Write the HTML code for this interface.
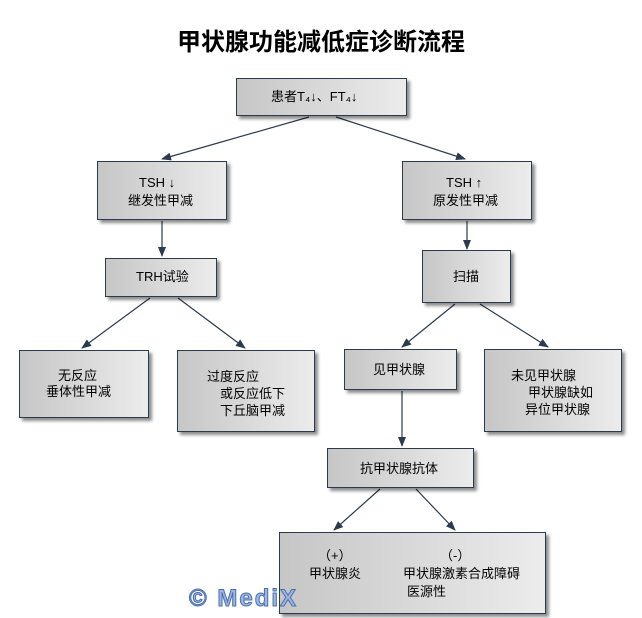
<!DOCTYPE html>
<html><head><meta charset="utf-8"><style>
body{margin:0;width:642px;height:618px;background:#fff;position:relative;overflow:hidden;font-family:"Liberation Sans","Noto Sans CJK SC",sans-serif;}
.b{position:absolute;box-sizing:border-box;border:1px solid #2c3a4e;background:linear-gradient(to right,#c6c6c6,#ececec);box-shadow:3px 3px 3px rgba(0,0,0,0.45);font-size:13px;color:#000;line-height:18px;}
.t{position:absolute;white-space:pre;font-size:13px;line-height:18px}
</style></head><body>
<div style="position:absolute;left:0;width:642px;top:22px;text-align:center;font-size:24px;font-weight:bold;font-family:'Noto Sans CJK SC',sans-serif;">甲状腺功能减低症诊断流程</div>
<svg width="642" height="618" style="position:absolute;left:0;top:0">
<defs><marker id="a" markerWidth="10" markerHeight="8" refX="9" refY="4" orient="auto" markerUnits="userSpaceOnUse"><path d="M0,0 L10,4 L0,8 z" fill="#2c3a4e"/></marker></defs>
<g stroke="#2c3a4e" stroke-width="1.2" marker-end="url(#a)">
<line x1="309" y1="117" x2="162" y2="159"/>
<line x1="336" y1="117" x2="465" y2="159"/>
<line x1="162" y1="221" x2="162" y2="256"/>
<line x1="467" y1="221" x2="467" y2="249"/>
<line x1="150" y1="298" x2="82" y2="348"/>
<line x1="178" y1="298" x2="245" y2="348"/>
<line x1="455" y1="304" x2="402" y2="347"/>
<line x1="480" y1="304" x2="548" y2="347"/>
<line x1="402" y1="391" x2="402" y2="446"/>
<line x1="380" y1="489" x2="334" y2="530"/>
<line x1="416" y1="489" x2="455" y2="530"/>
</g></svg>
<div class="b" style="left:236px;top:78px;width:171px;height:38px"><span class="t" style="left:34px;top:9px">患者T₄↓、FT₄↓</span></div>
<div class="b" style="left:97px;top:161px;width:130px;height:59px"><span class="t" style="left:41px;top:12px">TSH ↓
</span><span class="t" style="left:30px;top:30px">继发性甲减</span></div>
<div class="b" style="left:402px;top:161px;width:130px;height:59px"><span class="t" style="left:43px;top:12px">TSH ↑</span><span class="t" style="left:30px;top:30px">原发性甲减</span></div>
<div class="b" style="left:105px;top:258px;width:112px;height:39px"><span class="t" style="left:30px;top:9px">TRH试验</span></div>
<div class="b" style="left:422px;top:250px;width:89px;height:53px"><span class="t" style="left:30px;top:17px">扫描</span></div>
<div class="b" style="left:19px;top:350px;width:130px;height:68px"><span class="t" style="left:38px;top:16px">无反应</span><span class="t" style="left:26px;top:32px">垂体性甲减</span></div>
<div class="b" style="left:177px;top:350px;width:138px;height:82px"><span class="t" style="left:29px;top:17px">过度反应</span><span class="t" style="left:42px;top:34px">或反应低下</span><span class="t" style="left:42px;top:51px">下丘脑甲减</span></div>
<div class="b" style="left:344px;top:349px;width:113px;height:41px"><span class="t" style="left:28px;top:11px">见甲状腺</span></div>
<div class="b" style="left:484px;top:349px;width:138px;height:83px"><span class="t" style="left:26px;top:17px">未见甲状腺</span><span class="t" style="left:43px;top:34px">甲状腺缺如</span><span class="t" style="left:40px;top:51px">异位甲状腺</span></div>
<div class="b" style="left:327px;top:448px;width:147px;height:40px"><span class="t" style="left:32px;top:11px">抗甲状腺抗体</span></div>
<div class="b" style="left:279px;top:532px;width:267px;height:82px"><span class="t" style="left:38px;top:14px">（+）</span><span class="t" style="left:29px;top:32px">甲状腺炎</span><span class="t" style="left:160px;top:14px">（-）</span><span class="t" style="left:123px;top:32px">甲状腺激素合成障碍</span><span class="t" style="left:127px;top:50px">医源性</span></div>
<div style="position:absolute;left:189px;top:585px;font-size:24px;font-weight:bold;color:#9fb6e0;-webkit-text-stroke:1px #4a6fb0;font-family:'Liberation Sans',sans-serif;letter-spacing:2px">© MediX</div>
</body></html>
